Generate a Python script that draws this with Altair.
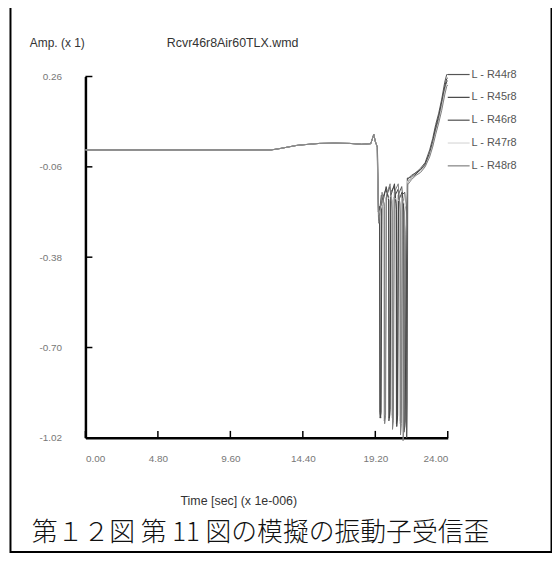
import altair as alt
import pandas as pd

SERIES = ["R44r8", "R45r8", "R46r8", "R47r8", "R48r8"]
COLORS = ["#555555", "#444444", "#4e4e4e", "#d8d8d8", "#808080"]

X_TICKS = [0.0, 4.8, 9.6, 14.4, 19.2, 24.0]
Y_TICKS = [0.26, -0.06, -0.38, -0.70, -1.02]

# shared early part (all series overlap)
PRE_T = [0.0, 12.3, 12.8, 13.4, 14.0, 14.6, 15.5, 16.5, 17.5, 18.3, 18.9, 19.1, 19.2, 19.3]
PRE_V = [0.000, 0.000, 0.004, 0.010, 0.016, 0.019, 0.023, 0.024, 0.023, 0.020, 0.022, 0.055, 0.030, 0.015]

# oscillating part, one per series
MID_T = {
    "R44r8": [19.32, 19.40, 19.48, 19.50, 19.56, 19.62, 19.90, 20.08, 20.10, 20.16, 20.22, 20.45, 20.58, 20.60, 20.66, 20.72, 20.95, 21.08, 21.10, 21.16, 21.24, 21.32],
    "R45r8": [19.33, 19.41, 19.50, 19.52, 19.58, 19.64, 19.92, 20.10, 20.12, 20.18, 20.24, 20.47, 20.60, 20.62, 20.68, 20.74, 20.97, 21.10, 21.12, 21.18, 21.26, 21.34],
    "R46r8": [19.34, 19.42, 19.60, 19.78, 19.80, 19.86, 19.92, 20.15, 20.30, 20.32, 20.38, 20.44, 20.70, 20.83, 20.85, 20.91, 20.97, 21.15, 21.26, 21.28, 21.31, 21.35],
    "R47r8": [19.33, 19.41, 19.76, 19.78, 19.84, 19.90, 20.28, 20.30, 20.36, 20.42, 20.81, 20.83, 20.89, 20.95, 21.20, 21.33],
    "R48r8": [19.34, 19.43, 19.65, 19.80, 19.82, 19.88, 19.94, 20.18, 20.32, 20.34, 20.40, 20.46, 20.72, 20.85, 20.87, 20.93, 20.99, 21.02, 21.04, 21.10, 21.20, 21.34],
}
MID_V = {
    "R44r8": [0.010, -0.22, -0.20, -0.93, -0.95, -0.18, -0.14, -0.17, -0.96, -0.94, -0.15, -0.13, -0.19, -0.97, -0.95, -0.16, -0.13, -0.20, -1.00, -0.98, -0.30, -0.10],
    "R45r8": [0.010, -0.24, -0.21, -0.95, -0.93, -0.20, -0.13, -0.18, -0.95, -0.92, -0.16, -0.12, -0.21, -0.98, -0.94, -0.18, -0.15, -0.22, -0.99, -0.96, -0.28, -0.11],
    "R46r8": [0.010, -0.25, -0.16, -0.19, -0.96, -0.93, -0.17, -0.13, -0.18, -0.94, -0.91, -0.17, -0.14, -0.19, -0.96, -0.92, -0.16, -0.15, -0.22, -1.02, -0.90, -0.10],
    "R47r8": [0.010, -0.23, -0.18, -0.94, -0.92, -0.18, -0.16, -0.95, -0.93, -0.17, -0.18, -0.97, -0.93, -0.17, -0.20, -0.11],
    "R48r8": [0.010, -0.26, -0.15, -0.20, -0.97, -0.94, -0.16, -0.12, -0.22, -0.99, -0.96, -0.15, -0.12, -0.22, -1.01, -0.97, -0.17, -0.25, -1.03, -0.98, -0.40, -0.12],
}

# final rise, one per series
POST_T = [21.40, 21.60, 21.90, 22.20, 22.50, 22.80, 23.00, 23.20, 23.40, 23.60, 23.80, 23.93, 24.00]
POST_V = {
    "R44r8": [-0.100, -0.090, -0.080, -0.065, -0.045, 0.000, 0.040, 0.090, 0.130, 0.180, 0.240, 0.267, 0.267],
    "R45r8": [-0.110, -0.100, -0.085, -0.070, -0.050, -0.010, 0.030, 0.080, 0.120, 0.170, 0.225, 0.252, 0.255],
    "R46r8": [-0.100, -0.095, -0.080, -0.070, -0.055, -0.015, 0.020, 0.070, 0.110, 0.160, 0.215, 0.242, 0.245],
    "R47r8": [-0.110, -0.100, -0.090, -0.075, -0.060, -0.020, 0.015, 0.060, 0.100, 0.150, 0.205, 0.232, 0.235],
    "R48r8": [-0.120, -0.105, -0.090, -0.080, -0.060, -0.025, 0.010, 0.055, 0.095, 0.140, 0.195, 0.225, 0.230],
}

TOP_LEFT = "Amp.  (x 1)"
TOP_FILE = "Rcvr46r8Air60TLX.wmd"
X_TITLE = "Time [sec] (x 1e-006)"
CAPTION = "第１２図 第 11 図の模擬の振動子受信歪"

rows = []
for s in SERIES:
    ts = PRE_T + MID_T[s] + POST_T
    vs = PRE_V + MID_V[s] + POST_V[s]
    for i, (t, v) in enumerate(zip(ts, vs)):
        rows.append({"series": s, "t": t, "v": v, "i": i})
df = pd.DataFrame(rows)

W, H = 365, 364
FONT = "Liberation Sans"

xscale = alt.Scale(domain=[0, 24], nice=False, zero=False)
yscale = alt.Scale(domain=[-1.02, 0.26], nice=False, zero=False)

lines = alt.Chart(df).mark_line(strokeWidth=1, clip=False).encode(
    x=alt.X("t:Q", scale=xscale, axis=alt.Axis(
        values=X_TICKS, labelExpr="replace(format(datum.value, '.2f'), '\u2212', '-')",
        title=X_TITLE, titleX=154, titleY=63, titleAlign="center", titleBaseline="middle",
        titleFontSize=12.5, titleFontWeight="normal", titleColor="#333", titleFont=FONT,
        labelFont=FONT, labelFontSize=10, labelColor="#777", labelPadding=16,
        tickSize=0, domainColor="black", domainWidth=2.5, grid=False)),
    y=alt.Y("v:Q", scale=yscale, axis=alt.Axis(
        values=Y_TICKS, labelExpr="replace(format(datum.value, '.2f'), '\u2212', '-')",
        title=None, labelFont=FONT, labelFontSize=10, labelColor="#777", labelPadding=24,
        tickSize=0, domainColor="black", domainWidth=2.5, grid=False)),
    color=alt.Color("series:N", sort=SERIES,
                    scale=alt.Scale(domain=SERIES, range=COLORS),
                    legend=alt.Legend(orient="none", legendX=364, legendY=-14, title=None,
                                      symbolType="stroke", symbolSize=484, symbolStrokeWidth=1.2,
                                      rowPadding=6, labelOffset=1, padding=0,
                                      labelFont=FONT, labelFontSize=11, labelColor="#555",
                                      labelExpr="'L - ' + datum.label")),
    order="i:Q",
    detail="series:N",
)

xt = alt.Chart(pd.DataFrame({"t": X_TICKS})).mark_rule(color="black", strokeWidth=1.5).encode(
    x=alt.X("t:Q", scale=xscale), y=alt.value(H), y2=alt.value(H - 7))
yt = alt.Chart(pd.DataFrame({"v": Y_TICKS})).mark_rule(color="black", strokeWidth=1.5).encode(
    y=alt.Y("v:Q", scale=yscale), x=alt.value(0), x2=alt.value(7))

one = pd.DataFrame({"a": [0]})
txt_amp = alt.Chart(one).mark_text(text=TOP_LEFT, align="left", baseline="middle",
                                   font=FONT, fontSize=12, color="#333").encode(
    x=alt.value(-56), y=alt.value(-34))
txt_file = alt.Chart(one).mark_text(text=TOP_FILE, align="left", baseline="middle",
                                    font=FONT, fontSize=12.5, color="#333").encode(
    x=alt.value(82), y=alt.value(-34))
txt_cap = alt.Chart(one).mark_text(text=CAPTION, align="left", baseline="middle",
                                   font="Noto Sans CJK JP", fontSize=26, fontWeight=300,
                                   color="#111").encode(
    x=alt.value(-54), y=alt.value(460))
frame = alt.Chart(one).mark_rect(filled=False, stroke="black", strokeWidth=2).encode(
    x=alt.value(-75.5), x2=alt.value(469.5), y=alt.value(-71.5), y2=alt.value(479))

chart = alt.layer(frame, lines, xt, yt, txt_amp, txt_file, txt_cap).properties(
    width=W, height=H,
    padding={"left": 78, "top": 67, "right": 105, "bottom": 117},
    autosize=alt.AutoSizeParams(type="none"),
).configure_view(stroke=None)

chart.save("out.html", embed_options={"renderer": "svg", "actions": False})
